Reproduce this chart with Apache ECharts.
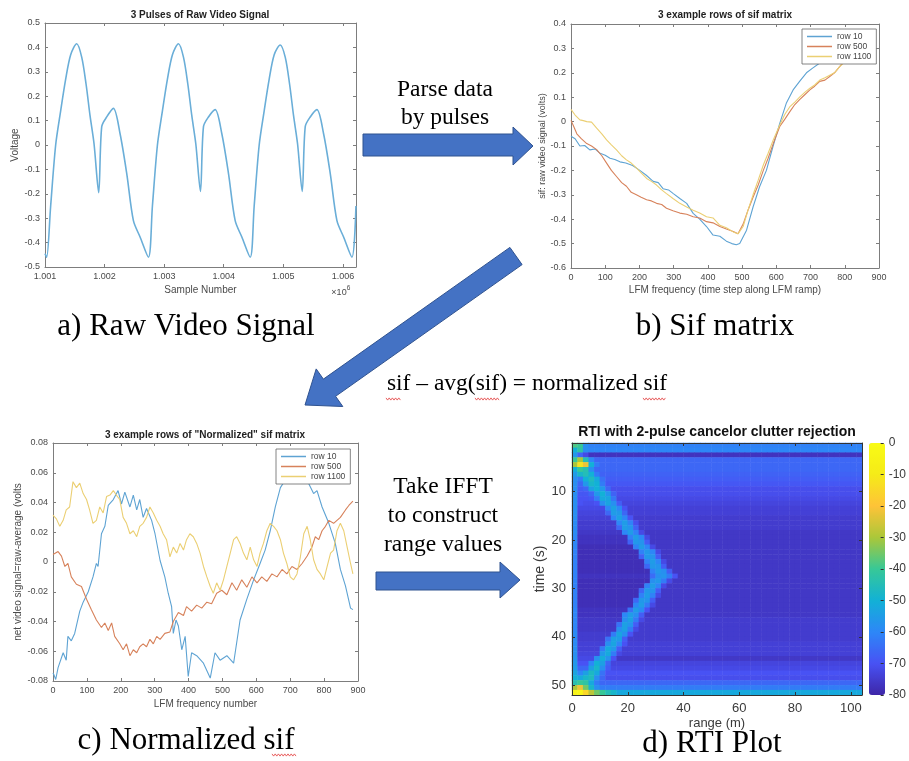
<!DOCTYPE html>
<html><head><meta charset="utf-8">
<script src="https://cdn.jsdelivr.net/npm/echarts@6/dist/echarts.min.js"></script>
<style>html,body{margin:0;padding:0;background:#fff}#c{width:909px;height:761px}</style>
</head><body><div id="c"></div>
<script>
// ---------- Panel a: raw video signal ----------
const rawSample = [1001000,1001028,1001095,1001179,1001263,1001347,1001431,1001532,1001616,1001689,1001756,1001823,1001901,1001952,1002036,1002148,1002260,1002372,1002484,1002596,1002736,
  1002803,1002887,1002971,1003055,1003139,1003240,1003324,1003397,1003464,1003531,1003609,1003660,1003744,1003856,1003968,1004080,1004192,1004304,1004444,
  1004511,1004595,1004679,1004763,1004847,1004948,1005032,1005105,1005172,1005239,1005317,1005368,1005452,1005564,1005676,1005788,1005900,1006012,1006152,1006219];
const rawVoltage = [-0.445,-0.46,-0.25,0.0,0.14,0.27,0.37,0.415,0.36,0.25,0.12,0.005,-0.195,0.075,0.115,0.15,0.046,-0.117,-0.31,-0.377,-0.46,
  -0.25,0.0,0.14,0.27,0.37,0.415,0.36,0.25,0.12,0.005,-0.19,0.075,0.115,0.145,0.046,-0.117,-0.31,-0.377,-0.46,
  -0.25,0.0,0.14,0.27,0.37,0.41,0.36,0.25,0.12,0.005,-0.19,0.075,0.115,0.145,0.046,-0.117,-0.31,-0.377,-0.46,-0.25];
const rawXRange = [1001000, 1006220];

// ---------- Panel b: sif matrix rows ----------
const sifRow10X = [0,12,26,40,55,70,85,100,114,128,143,160,180,201,220,240,255,269,285,299,318,338,357,376,396,415,435,454,470,483,493,513,532,551,571,590,610,629,649,668,688,707,727,760,800,840,875];
const sifRow10Y = [-0.06,-0.07,-0.10,-0.098,-0.116,-0.112,-0.13,-0.138,-0.15,-0.155,-0.165,-0.17,-0.18,-0.20,-0.22,-0.245,-0.25,-0.275,-0.28,-0.295,-0.315,-0.335,-0.376,-0.40,-0.43,-0.465,-0.47,-0.49,-0.50,-0.505,-0.50,-0.445,-0.35,-0.267,-0.20,-0.103,-0.007,0.075,0.13,0.165,0.2,0.22,0.24,0.27,0.31,0.345,0.37];
const sifRow500X = [0,8,17,30,46,60,75,90,104,118,133,148,162,176,191,205,221,235,250,265,279,298,318,338,357,376,396,415,435,454,474,488,503,518,532,547,562,576,591,610,625,639,654,668,683,698,712,727,742,756,770,785,805,840,875];
const sifRow500Y = [0.005,-0.02,-0.05,-0.07,-0.09,-0.10,-0.115,-0.14,-0.17,-0.20,-0.225,-0.25,-0.265,-0.29,-0.30,-0.31,-0.32,-0.325,-0.335,-0.34,-0.355,-0.365,-0.375,-0.38,-0.39,-0.395,-0.41,-0.415,-0.43,-0.44,-0.45,-0.46,-0.42,-0.36,-0.31,-0.26,-0.20,-0.15,-0.09,-0.02,0.01,0.04,0.07,0.09,0.11,0.13,0.145,0.165,0.17,0.185,0.2,0.225,0.26,0.3,0.34];
const sifRow1100X = [0,12,26,36,46,60,75,90,104,118,133,148,162,176,191,205,221,235,250,265,279,298,318,338,357,376,396,415,435,454,474,488,503,518,532,547,562,576,591,610,625,639,654,668,683,698,712,727,742,756,770,785,805,840,875];
const sifRow1100Y = [0.05,0.027,0.007,0.004,0.0,-0.002,-0.027,-0.05,-0.075,-0.095,-0.116,-0.14,-0.157,-0.17,-0.19,-0.21,-0.233,-0.245,-0.26,-0.28,-0.295,-0.315,-0.335,-0.35,-0.363,-0.375,-0.39,-0.395,-0.425,-0.435,-0.452,-0.46,-0.43,-0.36,-0.30,-0.24,-0.178,-0.13,-0.075,-0.014,0.03,0.06,0.08,0.10,0.12,0.137,0.15,0.17,0.18,0.19,0.2,0.225,0.25,0.29,0.33];

// ---------- Panel c: normalized sif rows ----------
const normRow10X = [0,3,8,15,30,39,44,54,64,79,89,104,118,128,133,143,153,163,178,192,202,212,227,237,247,256,266,276,291,301,316,330,340,350,355,363,370,380,390,399,409,424,444,464,478,493,513,533,552,572,592,611,626,641,656,671,685,700,720,740,754,769,779,794,814,833,848,863,878,885];
const normRow10Y = [-0.0746,-0.076,-0.079,-0.071,-0.061,-0.066,-0.05,-0.053,-0.048,-0.033,-0.027,-0.02,-0.01,-0.001,-0.003,0.019,0.024,0.038,0.042,0.048,0.039,0.047,0.037,0.045,0.035,0.042,0.030,0.036,0.028,0.019,0.001,-0.01,-0.021,-0.03,-0.048,-0.039,-0.043,-0.059,-0.05,-0.077,-0.061,-0.063,-0.068,-0.078,-0.061,-0.066,-0.063,-0.068,-0.039,-0.025,-0.012,-0.001,0.008,0.021,0.037,0.05,0.055,0.057,0.059,0.057,0.053,0.046,0.048,0.037,0.026,0.0125,-0.005,-0.016,-0.031,-0.032];
const normRow500X = [0,15,25,35,44,54,69,84,99,113,128,143,153,163,173,182,197,207,217,227,237,247,256,266,276,286,296,306,316,330,345,355,370,385,394,409,424,439,454,468,483,498,513,528,542,557,572,587,602,616,631,646,661,676,690,705,720,735,750,764,774,784,794,804,814,828,838,848,863,873,885];
const normRow500Y = [0.005,0.007,0.004,-0.003,-0.001,-0.01,-0.015,-0.0165,-0.025,-0.032,-0.039,-0.044,-0.041,-0.046,-0.041,-0.05,-0.055,-0.059,-0.055,-0.063,-0.059,-0.061,-0.057,-0.055,-0.057,-0.052,-0.055,-0.05,-0.052,-0.048,-0.047,-0.04,-0.034,-0.036,-0.03,-0.033,-0.029,-0.031,-0.027,-0.028,-0.021,-0.019,-0.022,-0.014,-0.019,-0.012,-0.017,-0.01,-0.014,-0.01,-0.013,-0.008,-0.01,-0.005,-0.008,-0.003,-0.005,-0.001,0.004,0.01,0.017,0.015,0.021,0.024,0.028,0.026,0.028,0.03,0.035,0.038,0.041];
const normRow1100X = [0,10,20,30,39,49,59,69,79,89,99,108,118,128,138,148,158,168,178,187,197,207,217,227,237,247,256,266,276,286,296,306,316,325,335,345,355,365,375,385,394,404,414,424,434,444,454,464,473,483,493,503,513,523,533,542,552,562,572,582,592,602,611,621,631,641,651,661,671,680,690,700,710,720,730,740,750,759,769,779,789,799,809,819,828,838,848,858,868,878,885];
const normRow1100Y = [0.0315,0.029,0.024,0.028,0.035,0.037,0.054,0.05,0.053,0.046,0.042,0.035,0.026,0.028,0.037,0.033,0.044,0.045,0.048,0.045,0.042,0.03,0.026,0.019,0.021,0.017,0.024,0.026,0.03,0.037,0.033,0.028,0.024,0.019,0.015,0.0035,0.01,0.006,0.0125,0.008,0.015,0.019,0.017,0.0125,0.006,-0.003,-0.01,-0.0165,-0.021,-0.014,-0.019,-0.012,-0.003,0.006,0.015,0.017,0.0125,0.006,0.0015,0.01,0.0015,-0.003,0.006,0.0125,0.021,0.026,0.024,0.021,0.015,0.006,-0.001,-0.01,-0.012,-0.008,0.0035,0.019,0.024,0.015,0.0015,-0.005,-0.008,-0.012,-0.003,0.006,0.008,0.021,0.026,0.021,0.01,-0.001,-0.008];

const rowNames = ['row 10', 'row 500', 'row 1100'];

// ---------- Panel d: RTI (dB). One entry per 1 s time row; each row is run-length
// pairs [dB value, number of consecutive 2 m range cells], 52 cells (0..104 m) per row ----------
const rtiRuns = [
[-38,1,-40,1,-58,1,-61,49],
[-50,1,-42,1,-58,1,-60,49],
[-56,1,-66,1,-72,1,-77,49],
[-40,1,-30,1,-45,1,-60,1,-66,48],
[-30,1,-12,1,-22,1,-50,1,-62,1,-66,47],
[-50,1,-40,1,-44,1,-58,1,-66,48],
[-55,1,-48,1,-45,1,-50,1,-62,1,-67,47],
[-58,1,-62,1,-50,1,-46,1,-52,1,-64,1,-68,46],
[-58,1,-66,1,-56,1,-48,1,-50,1,-62,1,-69,46],
[-58,1,-68,1,-66,1,-54,1,-50,1,-56,1,-66,1,-71,45],
[-58,1,-69,2,-66,1,-56,1,-50,1,-57,1,-67,1,-71,44],
[-58,1,-70,2,-69,1,-62,1,-52,1,-53,1,-63,1,-72,44],
[-58,1,-70,1,-71,2,-70,1,-58,1,-53,1,-58,1,-68,1,-73,43],
[-58,1,-72,5,-60,1,-54,1,-60,1,-70,1,-74,42],
[-58,1,-73,5,-66,1,-55,1,-56,1,-66,1,-74,42],
[-58,1,-74,6,-60,1,-54,1,-60,1,-70,1,-75,41],
[-59,1,-75,7,-60,1,-55,1,-61,1,-71,1,-75,40],
[-59,1,-75,7,-66,1,-55,1,-57,1,-67,1,-75,40],
[-59,1,-76,8,-60,1,-55,1,-61,1,-72,1,-76,39],
[-60,1,-77,9,-61,1,-55,1,-60,1,-72,1,-76,38],
[-60,1,-77,9,-67,1,-56,1,-57,1,-68,1,-76,38],
[-60,1,-78,10,-61,1,-55,1,-60,1,-72,1,-76,37],
[-61,1,-78,11,-61,1,-56,1,-60,1,-72,1,-76,36],
[-61,1,-78,11,-67,1,-56,1,-57,1,-68,1,-76,36],
[-61,1,-78,12,-61,1,-55,1,-60,1,-72,1,-76,35],
[-61,1,-78,12,-66,1,-56,1,-57,1,-68,1,-76,35],
[-61,1,-78,13,-61,1,-56,1,-58,1,-68,1,-76,34],
[-61,1,-77,13,-65,1,-58,1,-57,1,-62,1,-70,1,-76,33],
[-61,1,-78,13,-58,1,-56,1,-62,1,-72,1,-76,34],
[-61,1,-78,12,-61,1,-55,1,-60,1,-72,1,-76,35],
[-61,1,-78,11,-66,1,-56,1,-57,1,-68,1,-76,36],
[-61,1,-78,11,-61,1,-55,1,-61,1,-72,1,-76,36],
[-61,1,-78,10,-66,1,-56,1,-57,1,-68,1,-76,37],
[-61,1,-78,10,-60,1,-55,1,-62,1,-72,1,-76,37],
[-60,1,-77,9,-64,1,-55,1,-59,1,-70,1,-76,38],
[-60,1,-77,8,-60,1,-55,1,-58,1,-68,1,-76,39],
[-60,1,-76,8,-58,1,-54,1,-62,1,-72,1,-75,39],
[-60,1,-76,7,-64,1,-54,1,-57,1,-68,1,-75,40],
[-60,1,-76,7,-58,1,-54,1,-62,1,-72,1,-75,40],
[-59,1,-75,6,-62,1,-53,1,-58,1,-70,1,-75,41],
[-59,1,-75,5,-64,1,-54,1,-55,1,-68,1,-75,42],
[-59,1,-74,5,-58,1,-53,1,-60,1,-70,1,-74,42],
[-58,1,-74,4,-62,1,-52,1,-56,1,-68,1,-74,43],
[-58,1,-73,4,-56,1,-52,1,-62,1,-72,1,-74,43],
[-57,1,-72,3,-58,1,-51,1,-57,1,-70,1,-76,44],
[-56,1,-70,2,-60,1,-50,1,-54,1,-66,1,-73,45],
[-55,1,-66,2,-54,1,-48,1,-58,1,-68,1,-72,45],
[-53,1,-60,1,-54,1,-47,1,-52,1,-64,1,-70,46],
[-50,1,-52,1,-48,1,-46,1,-58,1,-66,1,-71,46],
[-44,1,-40,1,-42,1,-52,1,-62,1,-66,47],
[-30,1,-22,1,-35,1,-48,1,-58,1,-62,47],
[-5,1,-3,1,-15,1,-28,1,-35,1,-40,1,-45,1,-48,1,-52,44]
];
const rtiRange = [0, 104];   // metres spanned by the 52 cells
const rtiTime = [0, 52];     // seconds spanned by the 52 rows
const colorbarRange = [-80, 0];

// ---------- build ----------
const SANS = "'Liberation Sans', Arial, sans-serif";
const SERIF = "'Liberation Serif', 'Times New Roman', serif";
const AX = '#7d7d7d', LBL = '#4a4a4a';
const C_BLUE = '#5ea3d3', C_ORANGE = '#d7825b', C_YELLOW = '#ebcf73';
const parula = ['#3E26A8','#4852F4','#2D87F7','#12B1D6','#37C897','#ABC739','#FEC338','#F5EB18','#F9FB15'];

const zip = (xs, ys) => xs.map((x, i) => [x, ys[i]]);
const rtiData = [];
let nCols = 0;
rtiRuns.forEach((runs, r) => {
  let c = 0;
  for (let k = 0; k < runs.length; k += 2) {
    for (let n = 0; n < runs[k + 1]; n++) { rtiData.push([c, r, runs[k]]); c++; }
  }
  nCols = Math.max(nCols, c);
});
const colCats = []; for (let i = 0; i < nCols; i++) colCats.push(i);
const rowCats = rtiRuns.map((_, i) => i);

function valAxis(o) {
  const base = {
    type: 'value', splitLine: {show: false},
    axisLine: {show: true, onZero: false, lineStyle: {color: AX, width: 1}},
    axisTick: {show: true, inside: true, length: 3, lineStyle: {color: AX}},
    axisLabel: {show: true, fontSize: 9, color: LBL, margin: 5, fontFamily: SANS},
    nameLocation: 'middle', nameTextStyle: {fontSize: 10, color: LBL, fontFamily: SANS}
  };
  const out = Object.assign(base, o);
  if (o.labelHidden) { out.axisLabel = {show: false}; delete out.labelHidden; }
  return out;
}

const G = {
  a: {left: 45, top: 23, width: 311, height: 244},
  b: {left: 571, top: 24, width: 308, height: 244},
  c: {left: 53, top: 443, width: 305, height: 238},
  d: {left: 572, top: 443, width: 290, height: 252},
  cb: {left: 869, top: 443, width: 16, height: 252}
};

const DARK = {show: true, onZero: false, lineStyle: {color: '#333', width: 1}};
const DTICK = {show: true, inside: true, length: 3, lineStyle: {color: '#333'}};

const xAxes = [
  valAxis({gridIndex: 0, min: rawXRange[0], max: rawXRange[1], interval: 1000, position: 'bottom',
    axisLabel: {fontSize: 9, color: LBL, margin: 5, showMaxLabel: false, formatter: v => (v / 1e6).toFixed(3)},
    name: 'Sample Number', nameGap: 18}),
  valAxis({gridIndex: 0, min: rawXRange[0], max: rawXRange[1], interval: 1000, position: 'top', labelHidden: true}),
  valAxis({gridIndex: 1, min: 0, max: 900, interval: 100, position: 'bottom',
    name: 'LFM frequency (time step along LFM ramp)', nameGap: 17}),
  valAxis({gridIndex: 1, min: 0, max: 900, interval: 100, position: 'top', labelHidden: true}),
  valAxis({gridIndex: 2, min: 0, max: 900, interval: 100, position: 'bottom',
    name: 'LFM frequency number', nameGap: 18}),
  valAxis({gridIndex: 2, min: 0, max: 900, interval: 100, position: 'top', labelHidden: true}),
  {gridIndex: 3, type: 'category', data: colCats, show: false},
  valAxis({gridIndex: 4, min: rtiRange[0], max: rtiRange[1], interval: 20, position: 'bottom', z: 5,
    axisLine: DARK, axisTick: DTICK,
    axisLabel: {fontSize: 13, color: '#3a3a3a', margin: 7, showMaxLabel: false},
    name: 'range (m)', nameGap: 22, nameTextStyle: {fontSize: 13, color: '#3a3a3a'}}),
  valAxis({gridIndex: 4, min: rtiRange[0], max: rtiRange[1], interval: 20, position: 'top', z: 5, labelHidden: true,
    axisLine: DARK, axisTick: DTICK}),
  {gridIndex: 5, type: 'value', min: 0, max: 1, show: false}
];

const yAxes = [
  valAxis({gridIndex: 0, min: -0.5, max: 0.5, interval: 0.1, position: 'left', name: 'Voltage', nameGap: 25}),
  valAxis({gridIndex: 0, min: -0.5, max: 0.5, interval: 0.1, position: 'right', labelHidden: true}),
  valAxis({gridIndex: 1, min: -0.6, max: 0.4, interval: 0.1, position: 'left',
    name: 'sif: raw video signal (volts)', nameGap: 23, nameTextStyle: {fontSize: 9, color: LBL}}),
  valAxis({gridIndex: 1, min: -0.6, max: 0.4, interval: 0.1, position: 'right', labelHidden: true}),
  valAxis({gridIndex: 2, min: -0.08, max: 0.08, interval: 0.02, position: 'left',
    name: 'net video signal=raw-average (volts', nameGap: 23}),
  valAxis({gridIndex: 2, min: -0.08, max: 0.08, interval: 0.02, position: 'right', labelHidden: true}),
  {gridIndex: 3, type: 'category', data: rowCats, inverse: true, show: false},
  valAxis({gridIndex: 4, min: rtiTime[0], max: rtiTime[1], interval: 10, inverse: true, position: 'left', z: 5,
    axisLine: DARK, axisTick: DTICK,
    axisLabel: {fontSize: 13, color: '#3a3a3a', margin: 6, showMinLabel: false, showMaxLabel: false},
    name: 'time (s)', nameGap: 23, nameTextStyle: {fontSize: 14, color: '#3a3a3a'}}),
  valAxis({gridIndex: 4, min: rtiTime[0], max: rtiTime[1], interval: 10, inverse: true, position: 'right', z: 5, labelHidden: true,
    axisLine: DARK, axisTick: DTICK}),
  valAxis({gridIndex: 5, min: colorbarRange[0], max: colorbarRange[1], interval: 10, position: 'right', z: 5,
    axisLine: {show: false, onZero: false}, axisTick: DTICK,
    axisLabel: {fontSize: 12, color: '#3a3a3a', margin: 5}})
];

const lineSeries = (name, xi, data, color, w) => ({
  name, type: 'line', xAxisIndex: xi, yAxisIndex: xi, data, symbol: 'none', showSymbol: false,
  lineStyle: {color, width: w}, itemStyle: {color}, animation: false, silent: true
});

const series = [
  Object.assign(lineSeries('raw', 0, zip(rawSample, rawVoltage), '#6aaed8', 1.6), {smooth: 0.3}),
  lineSeries(rowNames[0], 2, zip(sifRow10X, sifRow10Y), C_BLUE, 1.1),
  lineSeries(rowNames[1], 2, zip(sifRow500X, sifRow500Y), C_ORANGE, 1.1),
  lineSeries(rowNames[2], 2, zip(sifRow1100X, sifRow1100Y), C_YELLOW, 1.1),
  lineSeries(rowNames[0], 4, zip(normRow10X, normRow10Y), C_BLUE, 1.1),
  lineSeries(rowNames[1], 4, zip(normRow500X, normRow500Y), C_ORANGE, 1.1),
  lineSeries(rowNames[2], 4, zip(normRow1100X, normRow1100Y), C_YELLOW, 1.1),
  {type: 'heatmap', xAxisIndex: 6, yAxisIndex: 6, data: rtiData, silent: true, animation: false, progressive: 0}
];

const legendCommon = {
  data: rowNames, orient: 'vertical', icon: 'rect', itemWidth: 25, itemHeight: 1.5, itemGap: 1,
  padding: [3, 5, 3, 5], backgroundColor: '#fff', borderColor: '#666', borderWidth: 0.8,
  textStyle: {fontSize: 8.5, color: '#444', fontFamily: SANS}, selectedMode: false
};

const txt = (x, y, text, size, family, weight, fill) => ({
  type: 'text', x, y, z: 10,
  style: {text, font: (weight || 'normal') + ' ' + size + 'px ' + family, fill: fill || '#000',
    textAlign: 'center', textVerticalAlign: 'middle'}
});
const poly = (points) => ({type: 'polygon', z: 9, shape: {points},
  style: {fill: '#4472C4', stroke: '#2F528F', lineWidth: 1}});
// red spell-check squiggle (decoration)
function squiggle(x0, x1, y) {
  const pts = [];
  for (let x = x0, k = 0; x <= x1; x += 1.6, k++) pts.push([x, y + (k % 2 ? 1.1 : -1.1)]);
  return {type: 'polyline', z: 10, shape: {points: pts}, style: {stroke: '#e23b3b', lineWidth: 0.8, fill: null}};
}

const graphic = [
  txt(200, 15, '3 Pulses of Raw Video Signal', 10, SANS, 'bold', '#222'),
  txt(725, 15, '3 example rows of sif matrix', 10, SANS, 'bold', '#222'),
  txt(205, 435, '3 example rows of "Normalized" sif matrix', 10, SANS, 'bold', '#222'),
  txt(717, 432, 'RTI with 2-pulse cancelor clutter rejection', 14, SANS, 'bold', '#111'),
  txt(339, 293, '×10', 9, SANS, 'normal', LBL),
  txt(348.5, 288.5, '6', 6.5, SANS, 'normal', LBL),
  txt(186, 327, 'a) Raw Video Signal', 31, SERIF),
  txt(715, 327, 'b) Sif matrix', 31, SERIF),
  txt(186, 741, 'c) Normalized sif', 31, SERIF),
  txt(712, 744, 'd) RTI Plot', 31, SERIF),
  txt(445, 90, 'Parse data', 23.5, SERIF),
  txt(445, 118, 'by pulses', 23.5, SERIF),
  txt(527, 384, 'sif – avg(sif) = normalized sif', 23.5, SERIF),
  txt(443, 487, 'Take IFFT', 23.5, SERIF),
  txt(443, 516, 'to construct', 23.5, SERIF),
  txt(443, 545, 'range values', 23.5, SERIF),
  squiggle(386, 402, 399),
  squiggle(475, 500, 399),
  squiggle(643, 666, 399),
  squiggle(272, 297, 755),
  poly([[363,134],[513,134],[513,127],[533,146],[513,165],[513,156],[363,156]]),
  poly([[509.9,247.4],[522.1,264.6],[335.6,396.3],[342.8,406.5],[305,405],[316.2,368.9],[323.4,379.1]]),
  poly([[376,572],[500,572],[500,562],[520,580],[500,598],[500,590],[376,590]])
];

const option = {
  animation: false,
  textStyle: {fontFamily: SANS},
  grid: [
    Object.assign({show: false}, G.a), Object.assign({show: false}, G.b), Object.assign({show: false}, G.c),
    Object.assign({show: false}, G.d), Object.assign({show: false}, G.d), Object.assign({show: false}, G.cb)
  ],
  xAxis: xAxes, yAxis: yAxes, series,
  legend: [
    Object.assign({left: 802, top: 29}, legendCommon),
    Object.assign({left: 276, top: 449}, legendCommon)
  ],
  visualMap: {
    type: 'continuous', min: colorbarRange[0], max: colorbarRange[1], seriesIndex: 7, dimension: 2,
    left: G.cb.left, top: G.cb.top, itemWidth: G.cb.width, itemHeight: G.cb.height, padding: 0,
    calculable: false, hoverLink: false, inRange: {color: parula}
  },
  graphic
};

const chart = echarts.init(document.getElementById('c'));
chart.setOption(option);
</script></body></html>
